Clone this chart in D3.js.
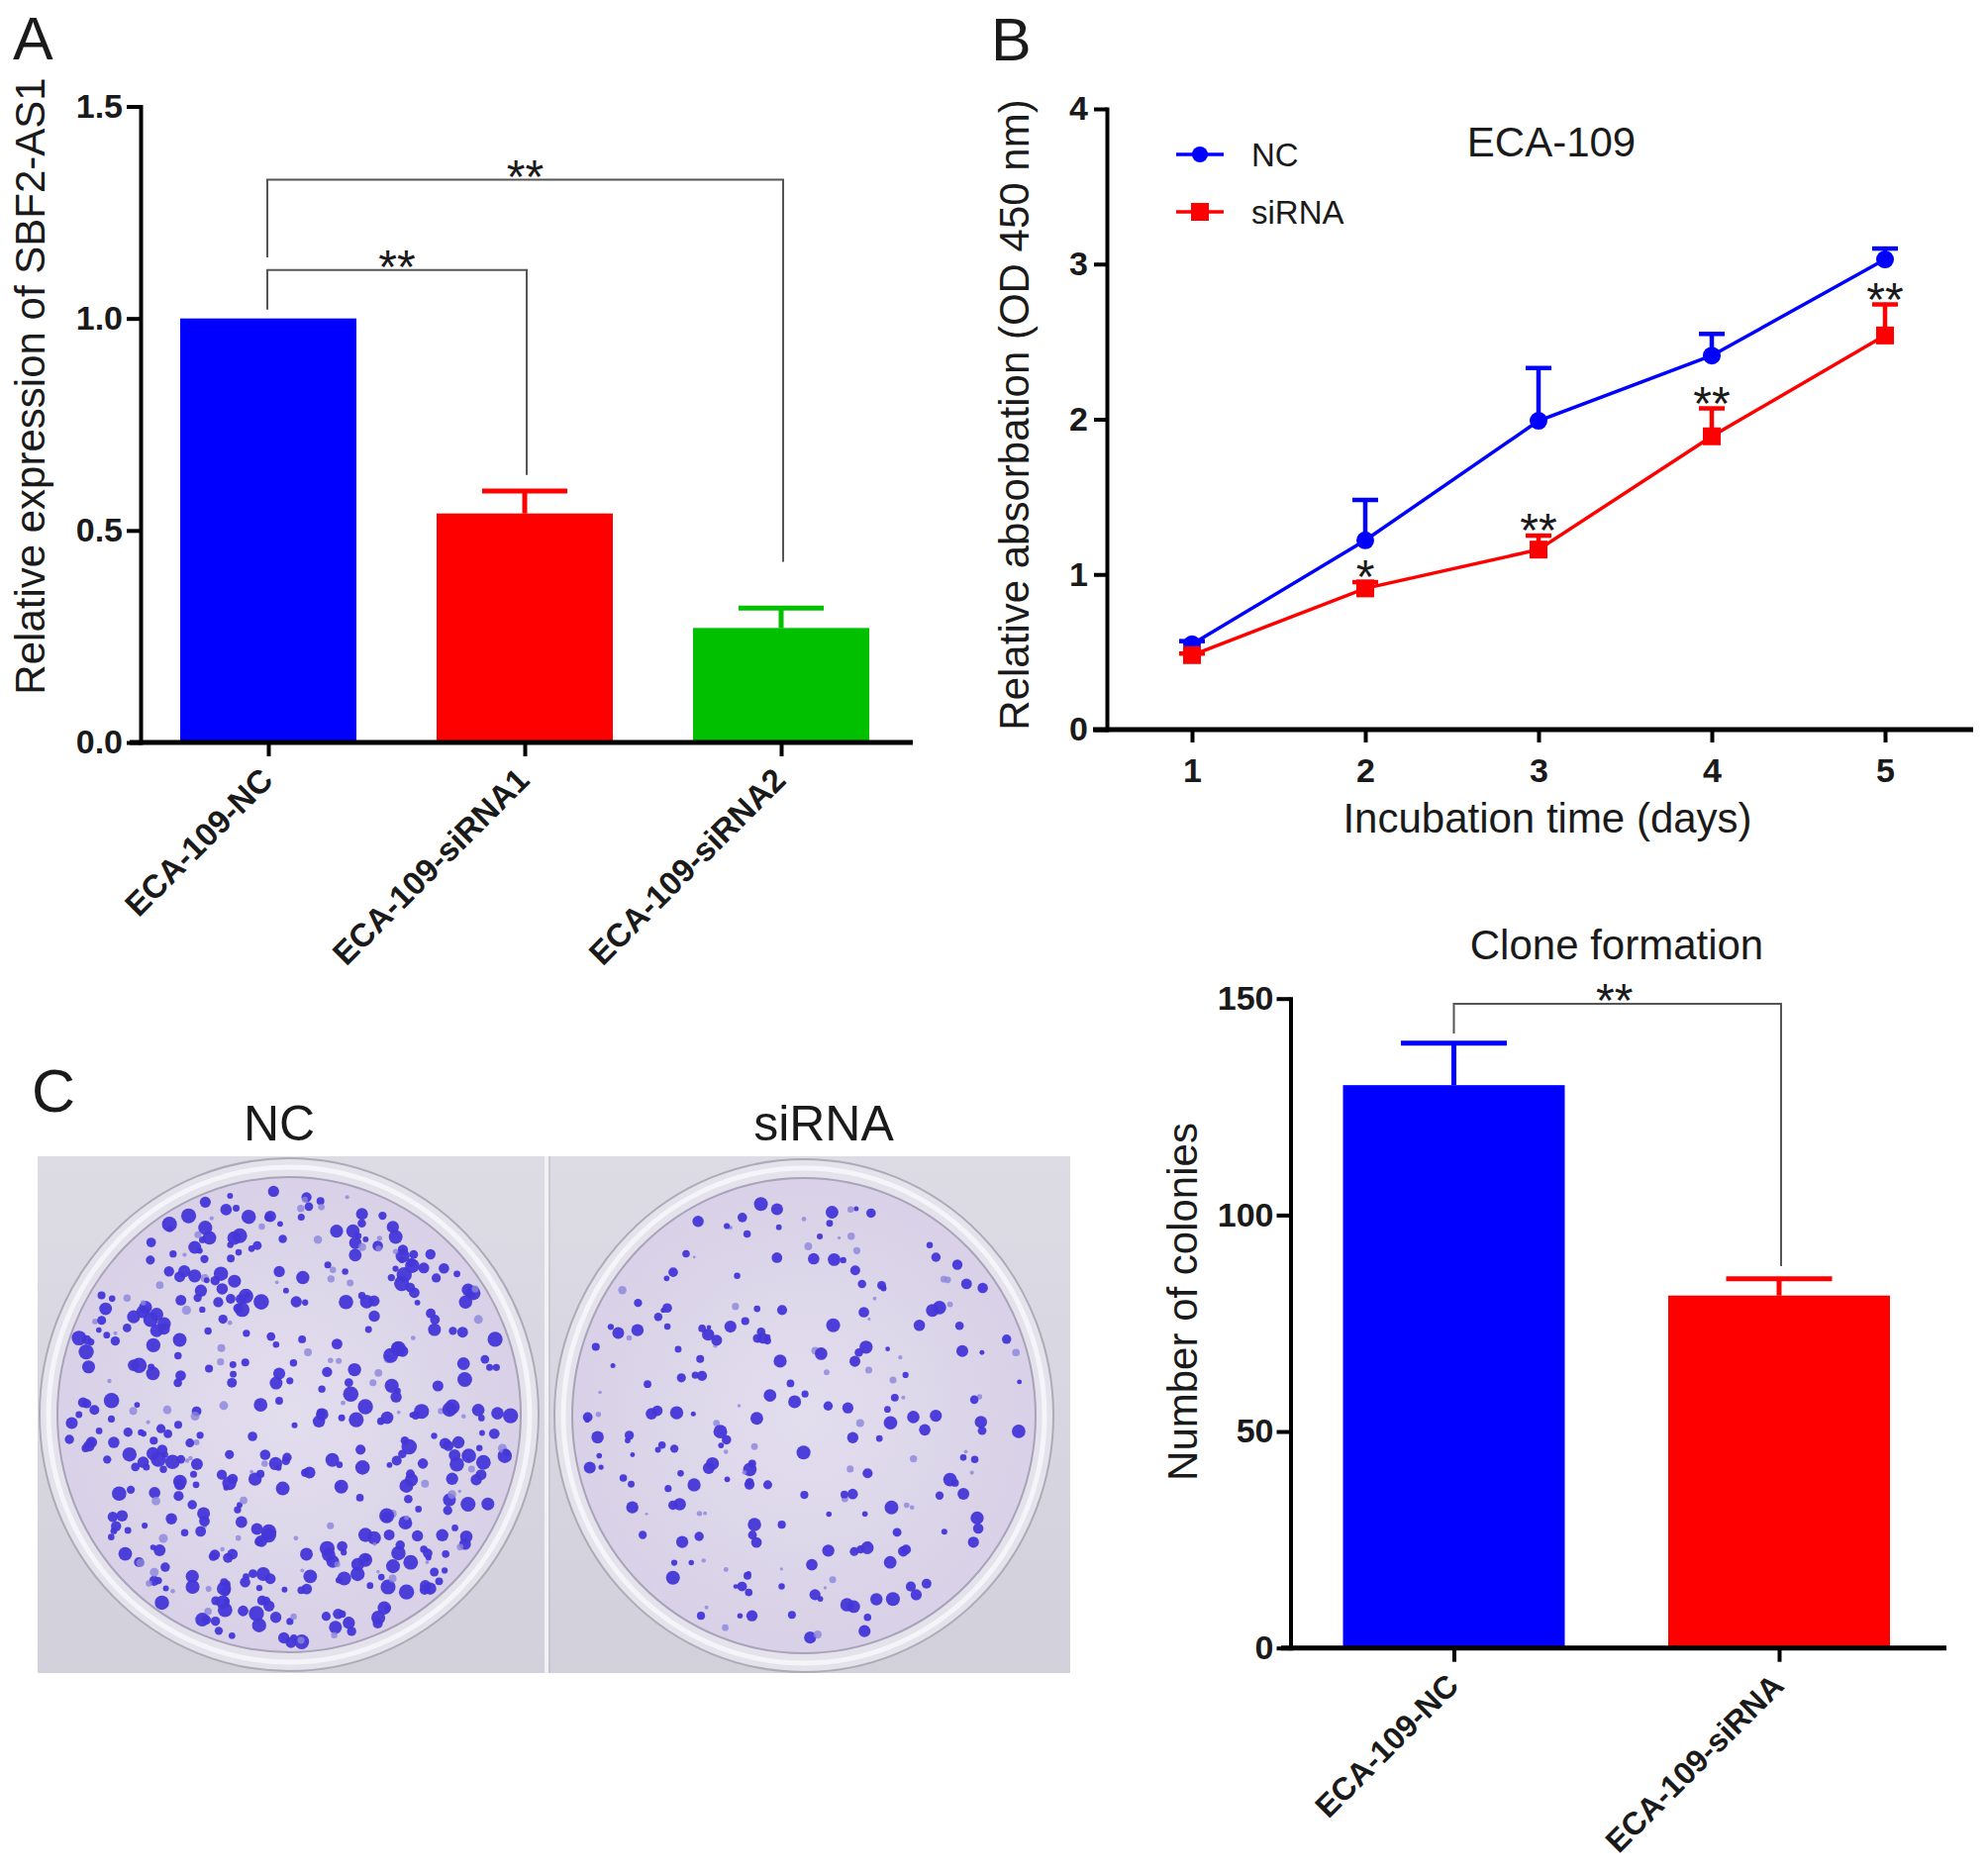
<!DOCTYPE html>
<html><head><meta charset="utf-8">
<script src="https://cdn.jsdelivr.net/npm/d3@7"></script>
<style>
body{margin:0;background:#fff}
svg{display:block}
text{font-family:"Liberation Sans",Arial,Helvetica,sans-serif;fill:#1a1a1a}
</style>
</head><body>
<svg id="fig" width="2008" height="1891"></svg>
<script>
// ---------------- Panel A data ----------------
const catsA = ["ECA-109-NC", "ECA-109-siRNA1", "ECA-109-siRNA2"];
const meanA = [1.0, 0.54, 0.27];
const errA = [0.0, 0.053, 0.047];
const ticksA = [0, 0.5, 1.0, 1.5];
const sigA = ["**", "**"];
// ---------------- Panel B data ----------------
const days = [1, 2, 3, 4, 5];
const ncB = [0.55, 1.22, 1.99, 2.41, 3.03];
const ncErrB = [0.02, 0.26, 0.34, 0.14, 0.07];
const siB = [0.48, 0.91, 1.16, 1.89, 2.54];
const siErrB = [0.01, 0.04, 0.09, 0.18, 0.20];
const sigB = ["", "*", "**", "**", "**"];
const ticksBy = [0, 1, 2, 3, 4];
const seriesB = ["NC", "siRNA"];
// ---------------- Clone formation data ----------------
const catsC = ["ECA-109-NC", "ECA-109-siRNA"];
const meanC = [130, 81.4];
const errC = [9.7, 3.9];
const ticksC = [0, 50, 100, 150];
const sigC = ["**"];
// ---------------- Photo labels ----------------
const platesP = ["NC", "siRNA"];

const BLUE = "#0000ff", RED = "#ff0000", GREEN = "#00c000";
const colorsA = [BLUE, RED, GREEN];
const colorsC = [BLUE, RED];
const STAR_SIZE = 48;

const svg = d3.select("#fig");

function styleAxis(g, w) {
  g.selectAll("path.domain").attr("stroke", "#000").attr("stroke-width", w).attr("stroke-linecap", "square");
  g.selectAll(".tick line").attr("stroke", "#000").attr("stroke-width", w);
  g.selectAll(".tick text").attr("font-size", 34).attr("font-weight", "bold")
    .attr("font-family", '"Liberation Sans",Arial,sans-serif').attr("fill", "#1a1a1a");
}

// panel letters
[["A", 13, 60], ["B", 1001, 61], ["C", 32, 1123]].forEach(([t, x, y]) =>
  svg.append("text").attr("x", x).attr("y", y).attr("font-size", 61).text(t));

// =============== PANEL A =================
(function () {
  const y = d3.scaleLinear().domain([0, 1.5]).range([750, 107.5]);
  const x = d3.scalePoint().domain(catsA).range([271, 789]);
  const bw = 178, cap = 86, axX = 142;
  const g = svg.append("g");

  g.selectAll("rect.bar").data(catsA).join("rect")
    .attr("x", d => x(d) - bw / 2).attr("width", bw)
    .attr("y", (d, i) => y(meanA[i])).attr("height", (d, i) => y(0) - y(meanA[i]))
    .attr("fill", (d, i) => colorsA[i]);
  catsA.forEach((c, i) => {
    if (errA[i] <= 0) return;
    g.append("line").attr("x1", x(c)).attr("x2", x(c)).attr("y1", y(meanA[i])).attr("y2", y(meanA[i] + errA[i]))
      .attr("stroke", colorsA[i]).attr("stroke-width", 5);
    g.append("line").attr("x1", x(c) - cap / 2).attr("x2", x(c) + cap / 2)
      .attr("y1", y(meanA[i] + errA[i])).attr("y2", y(meanA[i] + errA[i]))
      .attr("stroke", colorsA[i]).attr("stroke-width", 5);
  });

  // significance brackets (in value units)
  const brackets = [
    { a: 0, b: 2, top: 1.327, ya: 1.144, yb: 0.426, s: sigA[0] },
    { a: 0, b: 1, top: 1.114, ya: 1.021, yb: 0.631, s: sigA[1] }
  ];
  brackets.forEach(br => {
    const xa = x(catsA[br.a]) - 1, xb = x(catsA[br.b]) + 2;
    g.append("path").attr("fill", "none").attr("stroke", "#555").attr("stroke-width", 2)
      .attr("d", `M${xa},${y(br.ya)}V${y(br.top)}H${xb}V${y(br.yb)}`);
    g.append("text").attr("x", (xa + xb) / 2).attr("y", y(br.top) + 13)
      .attr("text-anchor", "middle").attr("font-size", STAR_SIZE).attr("fill", "#333").text(br.s);
  });

  const ay = g.append("g").attr("transform", `translate(${axX},0)`)
    .call(d3.axisLeft(y).tickValues(ticksA).tickFormat(d3.format(".1f")).tickSize(14).tickPadding(4).tickSizeOuter(0));
  styleAxis(ay, 4);
  g.append("line").attr("x1", 131).attr("x2", 922).attr("y1", y(0)).attr("y2", y(0))
    .attr("stroke", "#000").attr("stroke-width", 5);
  const ax = g.append("g").attr("transform", `translate(0,${y(0)})`)
    .call(d3.axisBottom(x).tickSize(14).tickSizeOuter(0));
  ax.select("path.domain").remove();
  styleAxis(ax, 4);
  ax.selectAll(".tick text").attr("text-anchor", "end").attr("dy", 0).attr("y", 0)
    .attr("transform", "translate(6,40) rotate(-45)").attr("font-size", 33);

  g.append("text").attr("transform", "translate(45,390) rotate(-90)").attr("text-anchor", "middle")
    .attr("font-size", 42).text("Relative expression of SBF2-AS1");
})();

// =============== PANEL B =================
(function () {
  const x = d3.scaleLinear().domain([1, 5]).range([1204, 1904]);
  const y = d3.scaleLinear().domain([0, 4]).range([737, 110]);
  const g = svg.append("g");
  const capW = 26;

  const ay = g.append("g").attr("transform", "translate(1118,0)")
    .call(d3.axisLeft(y).tickValues(ticksBy).tickFormat(d3.format("d")).tickSize(13).tickPadding(6).tickSizeOuter(0));
  styleAxis(ay, 4);
  g.append("line").attr("x1", 1104).attr("x2", 1993).attr("y1", y(0)).attr("y2", y(0))
    .attr("stroke", "#000").attr("stroke-width", 5);
  const ax = g.append("g").attr("transform", `translate(0,${y(0)})`)
    .call(d3.axisBottom(x).tickValues(days).tickFormat(d3.format("d")).tickSize(13).tickPadding(16).tickSizeOuter(0));
  ax.select("path.domain").remove();
  styleAxis(ax, 4);

  const series = [
    { name: seriesB[0], m: ncB, e: ncErrB, c: BLUE, shape: "circle" },
    { name: seriesB[1], m: siB, e: siErrB, c: RED, shape: "square" }
  ];
  const line = d3.line().x((d, i) => x(days[i])).y(d => y(d));
  series.forEach(s => {
    g.append("path").attr("d", line(s.m)).attr("fill", "none").attr("stroke", s.c).attr("stroke-width", 3.5);
    days.forEach((d, i) => {
      const y0 = y(s.m[i]), y1 = y(s.m[i] + s.e[i]);
      g.append("line").attr("x1", x(d)).attr("x2", x(d)).attr("y1", y0).attr("y2", y1)
        .attr("stroke", s.c).attr("stroke-width", 4.5);
      g.append("line").attr("x1", x(d) - capW / 2).attr("x2", x(d) + capW / 2).attr("y1", y1).attr("y2", y1)
        .attr("stroke", s.c).attr("stroke-width", 4.5);
    });
    if (s.shape === "circle") {
      g.selectAll(null).data(s.m).join("circle").attr("cx", (d, i) => x(days[i])).attr("cy", d => y(d))
        .attr("r", 9).attr("fill", s.c);
    } else {
      g.selectAll(null).data(s.m).join("rect").attr("x", (d, i) => x(days[i]) - 9).attr("y", d => y(d) - 9)
        .attr("width", 18).attr("height", 18).attr("fill", s.c);
    }
  });
  days.forEach((d, i) => {
    if (!sigB[i]) return;
    g.append("text").attr("x", x(d)).attr("y", y(siB[i] + siErrB[i]) + 11).attr("text-anchor", "middle")
      .attr("font-size", STAR_SIZE).attr("fill", "#333").text(sigB[i]);
  });

  series.forEach((s, i) => {
    const ly = 156 + i * 58;
    g.append("line").attr("x1", 1188).attr("x2", 1236).attr("y1", ly).attr("y2", ly).attr("stroke", s.c).attr("stroke-width", 3.5);
    if (s.shape === "circle") g.append("circle").attr("cx", 1212).attr("cy", ly).attr("r", 8).attr("fill", s.c);
    else g.append("rect").attr("x", 1203).attr("y", ly - 9).attr("width", 18).attr("height", 18).attr("fill", s.c);
    g.append("text").attr("x", 1264).attr("y", ly + 12).attr("font-size", 33).text(s.name);
  });

  g.append("text").attr("x", 1567).attr("y", 158).attr("text-anchor", "middle").attr("font-size", 42).text("ECA-109");
  g.append("text").attr("x", 1563).attr("y", 841).attr("text-anchor", "middle").attr("font-size", 42).text("Incubation time (days)");
  g.append("text").attr("transform", "translate(1039,419) rotate(-90)").attr("text-anchor", "middle")
    .attr("font-size", 42).text("Relative absorbation (OD 450 nm)");
})();

// =============== CLONE FORMATION =================
(function () {
  const y = d3.scaleLinear().domain([0, 150]).range([1664.7, 1008.7]);
  const x = d3.scalePoint().domain(catsC).range([1468.5, 1797]);
  const bw = 224, cap = 107;
  const g = svg.append("g");

  g.selectAll("rect.bar").data(catsC).join("rect")
    .attr("x", d => x(d) - bw / 2).attr("width", bw)
    .attr("y", (d, i) => y(meanC[i])).attr("height", (d, i) => y(0) - y(meanC[i]))
    .attr("fill", (d, i) => colorsC[i]);
  catsC.forEach((c, i) => {
    g.append("line").attr("x1", x(c)).attr("x2", x(c)).attr("y1", y(meanC[i])).attr("y2", y(meanC[i] + errC[i]))
      .attr("stroke", colorsC[i]).attr("stroke-width", 5);
    g.append("line").attr("x1", x(c) - cap / 2).attr("x2", x(c) + cap / 2)
      .attr("y1", y(meanC[i] + errC[i])).attr("y2", y(meanC[i] + errC[i]))
      .attr("stroke", colorsC[i]).attr("stroke-width", 5);
  });
  const br = { top: 148.8, ya: 141.9, yb: 88.2 };
  const xa = x(catsC[0]), xb = x(catsC[1]) + 2;
  g.append("path").attr("fill", "none").attr("stroke", "#555").attr("stroke-width", 2)
    .attr("d", `M${xa},${y(br.ya)}V${y(br.top)}H${xb}V${y(br.yb)}`);
  g.append("text").attr("x", (xa + xb) / 2 - 3).attr("y", y(br.top) + 13).attr("text-anchor", "middle")
    .attr("font-size", STAR_SIZE).attr("fill", "#333").text(sigC[0]);

  const ay = g.append("g").attr("transform", "translate(1303.5,0)")
    .call(d3.axisLeft(y).tickValues(ticksC).tickSize(14).tickPadding(3).tickSizeOuter(0));
  styleAxis(ay, 4);
  g.append("line").attr("x1", 1294).attr("x2", 1966).attr("y1", y(0)).attr("y2", y(0))
    .attr("stroke", "#000").attr("stroke-width", 5);
  const ax = g.append("g").attr("transform", `translate(0,${y(0)})`)
    .call(d3.axisBottom(x).tickSize(14).tickSizeOuter(0));
  ax.select("path.domain").remove();
  styleAxis(ax, 4);
  ax.selectAll(".tick text").attr("text-anchor", "end").attr("dy", 0).attr("y", 0)
    .attr("transform", "translate(6,40) rotate(-45)").attr("font-size", 32);

  g.append("text").attr("x", 1633).attr("y", 969).attr("text-anchor", "middle").attr("font-size", 42).text("Clone formation");
  g.append("text").attr("transform", "translate(1209,1315) rotate(-90)").attr("text-anchor", "middle")
    .attr("font-size", 42).text("Number of colonies");
})();

// =============== PANEL C (photograph illustration) =================
(function () {
  const g = svg.append("g");
  const defs = svg.append("defs");
  const bg = defs.append("linearGradient").attr("id", "bgGrad").attr("x1", 0).attr("y1", 0).attr("x2", 0).attr("y2", 1);
  bg.append("stop").attr("offset", "0%").attr("stop-color", "#dddbe4");
  bg.append("stop").attr("offset", "100%").attr("stop-color", "#d2d0db");
  const ig = defs.append("radialGradient").attr("id", "inGrad");
  ig.append("stop").attr("offset", "0%").attr("stop-color", "#e3deee");
  ig.append("stop").attr("offset", "100%").attr("stop-color", "#d8d1e7");
  defs.append("clipPath").attr("id", "photoClip").append("rect")
    .attr("x", 38).attr("y", 1168).attr("width", 1043).attr("height", 522);

  const ph = g.append("g").attr("clip-path", "url(#photoClip)");
  ph.append("rect").attr("x", 38).attr("y", 1168).attr("width", 1043).attr("height", 522).attr("fill", "url(#bgGrad)");
  ph.append("line").attr("x1", 552).attr("x2", 552).attr("y1", 1168).attr("y2", 1690).attr("stroke", "#f2f1f5").attr("stroke-width", 4);
  ph.append("line").attr("x1", 555).attr("x2", 555).attr("y1", 1168).attr("y2", 1690).attr("stroke", "#bdbac6").attr("stroke-width", 1);

  const dishes = [{ cx: 292, cy: 1429, n: 500, seed: 7, dense: 1 }, { cx: 812, cy: 1430, n: 240, seed: 19, dense: 0 }];
  // deterministic texture generator for the photographed colonies (illustration only, not chart data)
  function lcg(seed) { let s = seed >>> 0; return () => { s = (Math.imul(s, 1664525) + 1013904223) >>> 0; return s / 4294967296; }; }

  dishes.forEach(d => {
    ph.append("ellipse").attr("cx", d.cx).attr("cy", d.cy).attr("rx", 252).attr("ry", 259).attr("fill", "#e4e2ea").attr("stroke", "#aeabb9").attr("stroke-width", 2);
    ph.append("ellipse").attr("cx", d.cx).attr("cy", d.cy).attr("rx", 243).attr("ry", 250).attr("fill", "none").attr("stroke", "#f5f4f8").attr("stroke-width", 5);
    ph.append("ellipse").attr("cx", d.cx).attr("cy", d.cy).attr("rx", 234).attr("ry", 240).attr("fill", "url(#inGrad)").attr("stroke", "#a8a3b8").attr("stroke-width", 2);
    const rnd = lcg(d.seed);
    const dots = [];
    for (let i = 0; i < d.n; i++) {
      const u = rnd(), v = rnd(), w = rnd(), c = rnd();
      const rr = (d.dense ? 226 : 224) * Math.pow(u, d.dense ? 0.4 : 0.5);
      const a = v * Math.PI * 2;
      const px = d.cx + rr * Math.cos(a), py = d.cy + rr * 1.025 * Math.sin(a);
      const size = d.dense ? 2.8 + w * 5 : 2.3 + w * 4.8;
      dots.push({ px, py, size, light: c < 0.18 });
    }
    ph.selectAll(null).data(dots).join("circle")
      .attr("cx", p => p.px).attr("cy", p => p.py).attr("r", p => p.light ? p.size * 0.6 : p.size)
      .attr("fill", p => p.light ? "#8c84dc" : "#4436d8").attr("opacity", p => p.light ? 0.8 : 0.95);
  });

  platesP.forEach((t, i) => {
    g.append("text").attr("x", [282, 832][i]).attr("y", 1152).attr("text-anchor", "middle").attr("font-size", 50).text(t);
  });
})();
</script>
</body></html>
